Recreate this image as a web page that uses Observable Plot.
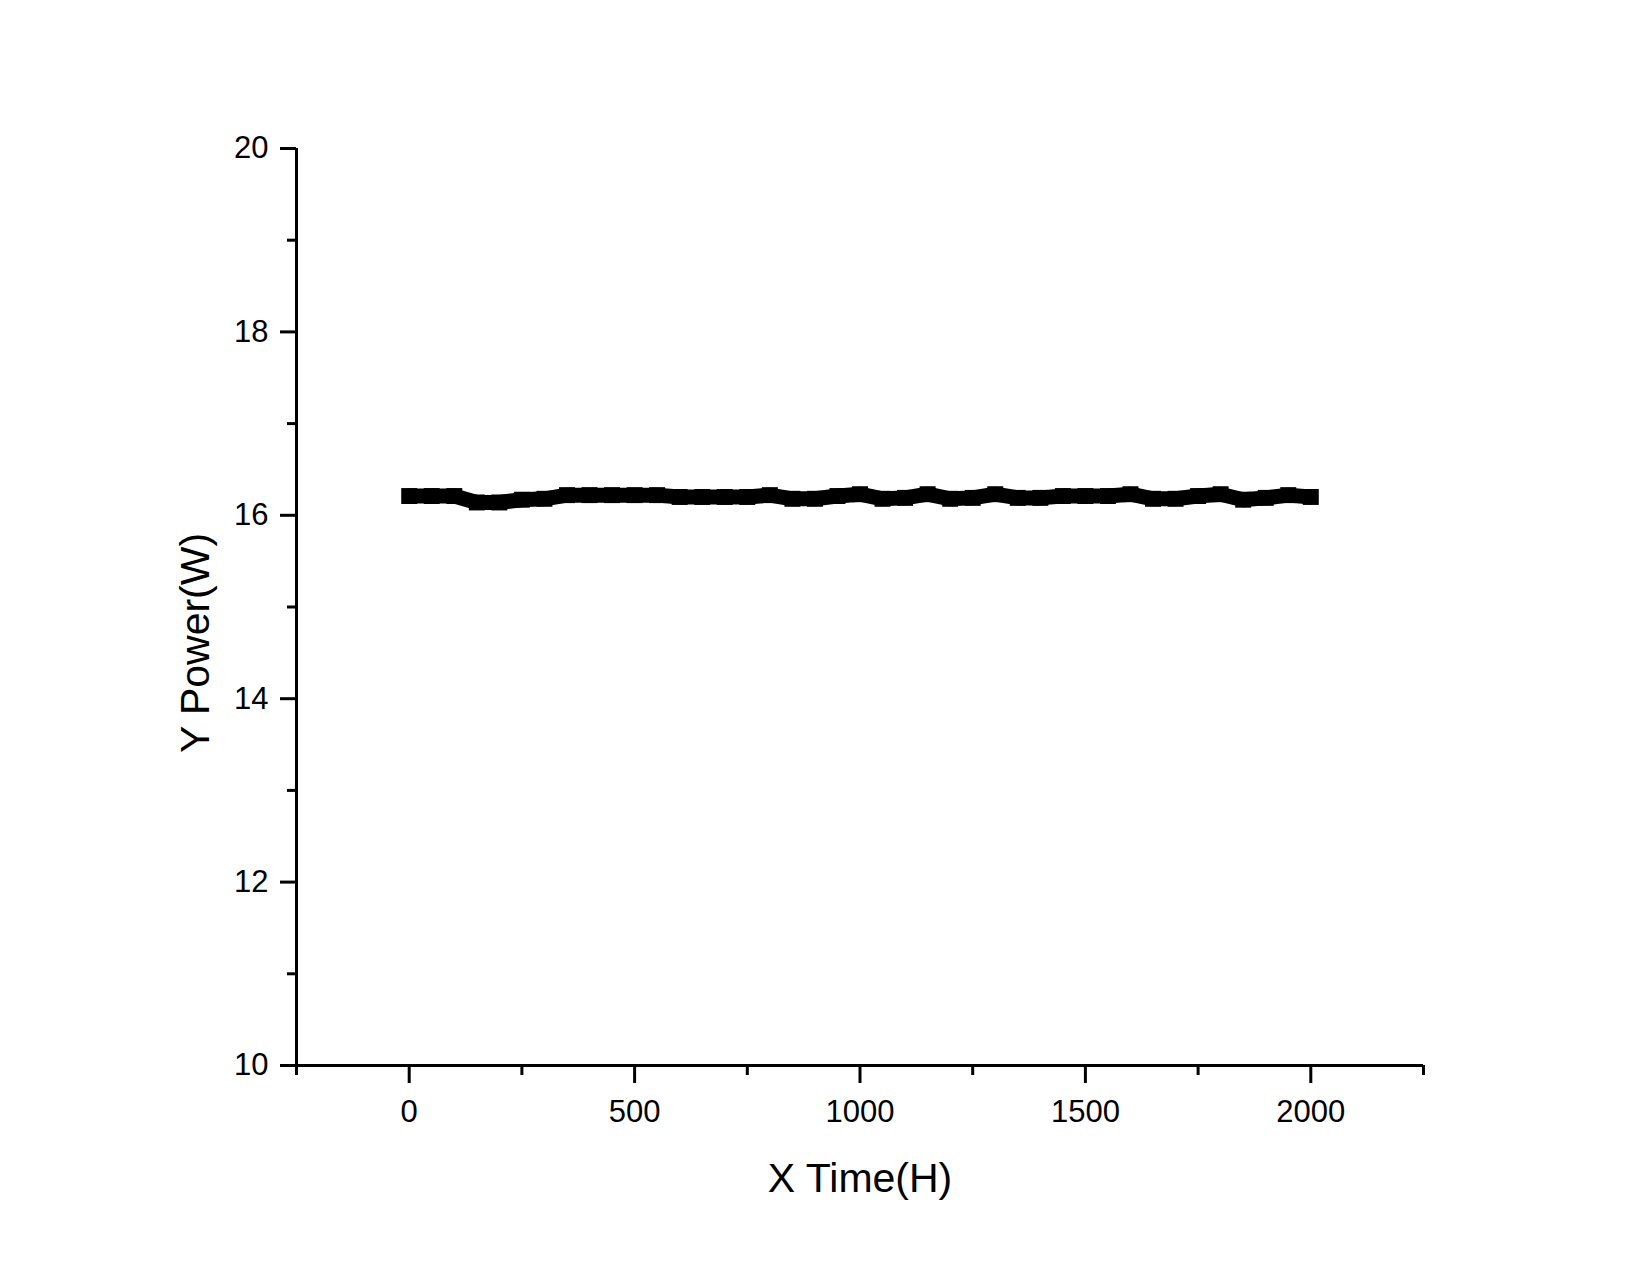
<!DOCTYPE html>
<html>
<head>
<meta charset="utf-8">
<script src="https://cdn.jsdelivr.net/npm/d3@7"></script>
<script src="https://cdn.jsdelivr.net/npm/@observablehq/plot@0.6"></script>
<style>
  html, body { margin: 0; padding: 0; background: #fff; }
  #chart svg { display: block; }
</style>
</head>
<body>
<div id="chart"></div>
<script>
// Data
const timeH = [0, 50, 100, 150, 200, 250, 300, 350, 400, 450, 500, 550, 600, 650, 700, 750, 800, 850, 900, 950,
  1000, 1050, 1100, 1150, 1200, 1250, 1300, 1350, 1400, 1450, 1500, 1550, 1600, 1650, 1700, 1750, 1800, 1850, 1900, 1950, 2000];
const powerW = [16.21, 16.21, 16.21, 16.14, 16.14, 16.17, 16.18, 16.22, 16.22, 16.22, 16.22, 16.22, 16.20, 16.20, 16.20, 16.20, 16.22, 16.18, 16.18, 16.21,
  16.23, 16.18, 16.19, 16.23, 16.18, 16.19, 16.23, 16.19, 16.19, 16.21, 16.21, 16.21, 16.23, 16.18, 16.18, 16.21, 16.23, 16.17, 16.19, 16.22, 16.20];

const xMajorTicks = [0, 500, 1000, 1500, 2000];
const xMinorTicks = [-250, 250, 750, 1250, 1750, 2250];
const yMajorTicks = [10, 12, 14, 16, 18, 20];
const yMinorTicks = [11, 13, 15, 17, 19];
const xDomain = [-250, 2250];
const yDomain = [10, 20];
const xTitle = "X Time(H)";
const yTitle = "Y Power(W)";

const data = timeH.map((t, i) => ({t, p: powerW[i]}));
const fmt = d3.format("d");

const chart = Plot.plot({
  width: 1650,
  height: 1275,
  marginLeft: 296,
  marginRight: 227,
  marginTop: 148,
  marginBottom: 210,
  style: {fontFamily: "'Liberation Sans', Arial, sans-serif", background: "#fff", color: "#000"},
  x: {domain: xDomain},
  y: {domain: yDomain},
  marks: [
    Plot.axisX({ticks: xMajorTicks, tickSize: 18, tickPadding: 16, strokeWidth: 3, fontSize: 31, tickFormat: fmt, label: null}),
    Plot.axisX({ticks: xMinorTicks, tickSize: 10, strokeWidth: 3, tickFormat: () => "", label: null}),
    Plot.axisY({ticks: yMajorTicks, tickSize: 16, tickPadding: 12, strokeWidth: 3, fontSize: 31, tickFormat: fmt, label: null}),
    Plot.axisY({ticks: yMinorTicks, tickSize: 9, strokeWidth: 3, tickFormat: () => "", label: null}),
    Plot.ruleY([yDomain[0]], {stroke: "#000", strokeWidth: 3}),
    Plot.ruleX([xDomain[0]], {stroke: "#000", strokeWidth: 3}),
    Plot.line(data, {x: "t", y: "p", stroke: "#000", strokeWidth: 15}),
    Plot.dot(data, {x: "t", y: "p", symbol: "square", r: 9, fill: "#000", stroke: "none"}),
    Plot.text([xTitle], {text: d => d, frameAnchor: "bottom", dy: 126, fontSize: 41, fill: "#000"}),
    Plot.text([yTitle], {text: d => d, frameAnchor: "left", textAnchor: "middle", rotate: -90, dx: -101, dy: 36, fontSize: 41, fill: "#000"})
  ]
});
document.getElementById("chart").appendChild(chart);
</script>
</body>
</html>
